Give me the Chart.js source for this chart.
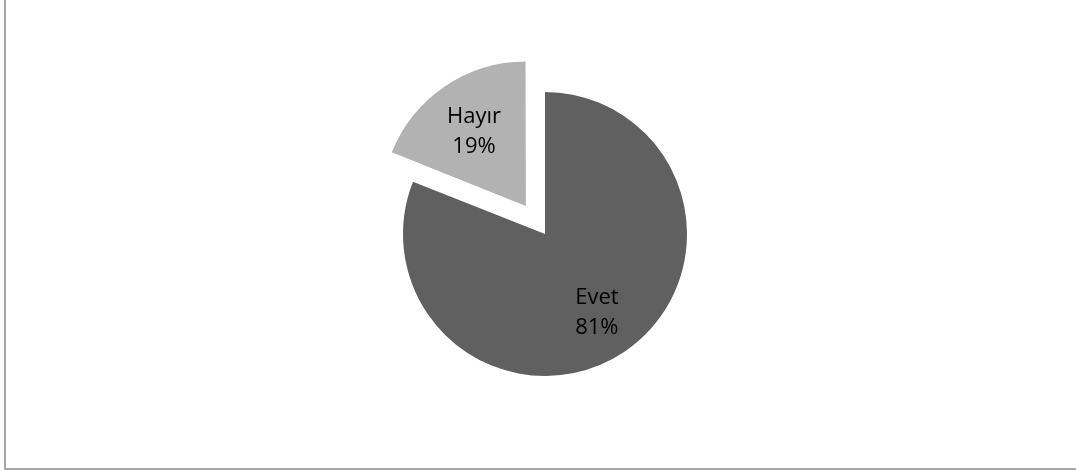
<!DOCTYPE html>
<html>
<head>
<meta charset="utf-8">
<script src="https://cdn.jsdelivr.net/npm/chart.js@4/dist/chart.umd.min.js"></script>
<style>
  html, body { margin: 0; padding: 0; background: #fff; }
  #wrap { position: relative; width: 1076px; height: 470px; }
  canvas { position: absolute; left: 0; top: 0; }
</style>
</head>
<body>
<div id="wrap"><canvas id="c" width="1076" height="470"></canvas></div>
<script>
const categories = ["Evet", "Hayır"];
const values = [81, 19];
const percentLabels = ["81%", "19%"];
const sliceColors = ["#606060", "#b2b2b2"];
const sliceOffsets = [0, 136]; // Chart.js v4 divides arc offset by 4 when drawing

const frameAndLabels = {
  id: 'frameAndLabels',
  afterDraw(chart) {
    const ctx = chart.ctx;
    ctx.save();
    ctx.strokeStyle = '#a6a6a6';
    ctx.lineWidth = 2;
    ctx.beginPath();
    ctx.moveTo(5, 0);
    ctx.lineTo(5, 469);
    ctx.lineTo(1076, 469);
    ctx.stroke();
    const meta = chart.getDatasetMeta(0);
    ctx.font = '22px "Open Sans", "Liberation Sans", sans-serif';
    ctx.fillStyle = '#000000';
    ctx.textAlign = 'center';
    ctx.textBaseline = 'middle';
    meta.data.forEach((arc, i) => {
      const p = arc.getProps(['x', 'y', 'startAngle', 'endAngle', 'outerRadius'], true);
      const mid = (p.startAngle + p.endAngle) / 2;
      const r = sliceOffsets[i] / 4 + p.outerRadius * 0.65;
      const cx = p.x + Math.cos(mid) * r;
      const cy = p.y + Math.sin(mid) * r;
      ctx.fillText(categories[i], cx, cy - 13);
      ctx.fillText(percentLabels[i], cx, cy + 17);
    });
    ctx.restore();
  }
};

new Chart(document.getElementById('c'), {
  type: 'pie',
  data: {
    labels: categories,
    datasets: [{
      data: values,
      backgroundColor: sliceColors,
      borderWidth: 0,
      offset: sliceOffsets
    }]
  },
  options: {
    responsive: false,
    animation: false,
    radius: 142,
    layout: { padding: { left: 14, right: 0, top: 0, bottom: 2 } },
    plugins: { legend: { display: false }, tooltip: { enabled: false } }
  },
  plugins: [frameAndLabels]
});
</script>
</body>
</html>
